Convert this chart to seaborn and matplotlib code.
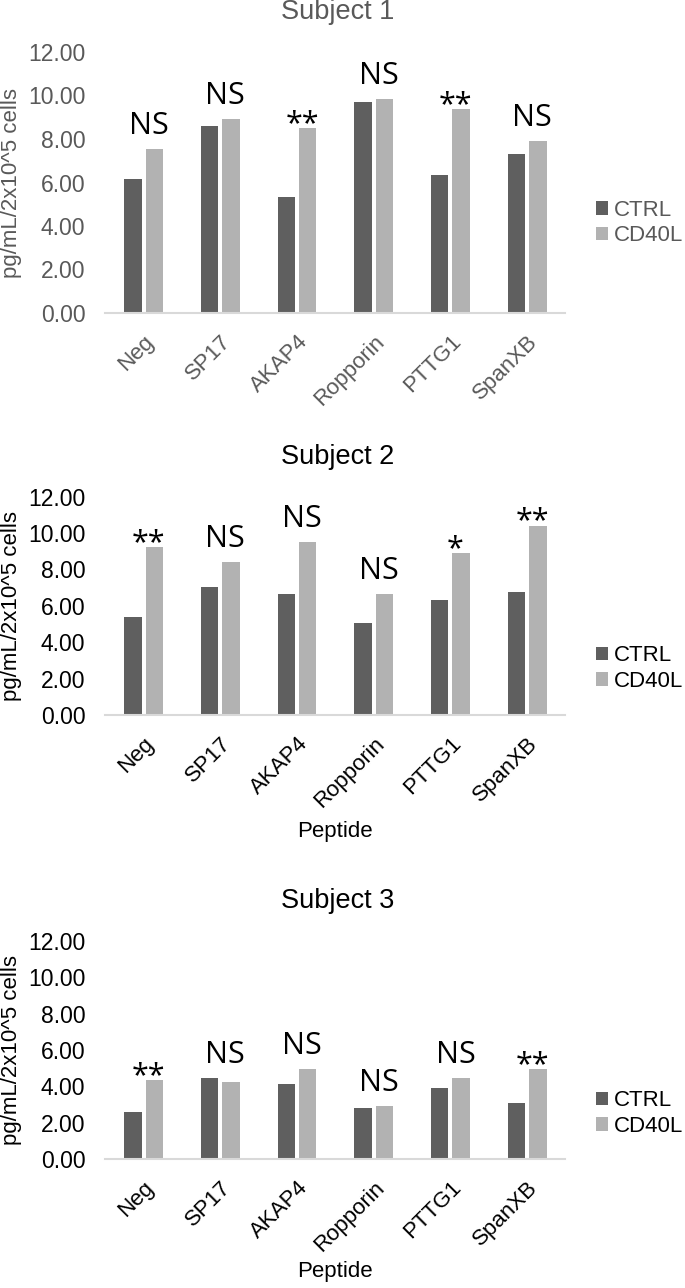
import matplotlib
matplotlib.use("Agg")
import matplotlib.pyplot as plt
import numpy as np
import pandas as pd
import seaborn as sns

# ---------------- data ----------------
categories = ["Neg", "SP17", "AKAP4", "Ropporin", "PTTG1", "SpanXB"]
conditions = ["CTRL", "CD40L"]

s1_ctrl = [6.17, 8.60, 5.35, 9.68, 6.33, 7.32]
s1_cd40l = [7.52, 8.91, 8.50, 9.86, 9.38, 7.90]
s1_sig = ["NS", "NS", "**", "NS", "**", "NS"]

s2_ctrl = [5.37, 7.02, 6.67, 5.03, 6.31, 6.78]
s2_cd40l = [9.25, 8.41, 9.49, 6.67, 8.90, 10.41]
s2_sig = ["**", "NS", "NS", "NS", "*", "**"]

s3_ctrl = [2.60, 4.48, 4.12, 2.83, 3.90, 3.07]
s3_cd40l = [4.35, 4.23, 4.94, 2.94, 4.48, 4.94]
s3_sig = ["**", "NS", "NS", "NS", "NS", "**"]

titles = ["Subject 1", "Subject 2", "Subject 3"]
y_ticks = [0, 2, 4, 6, 8, 10, 12]
y_label = "pg/mL/2x10^5 cells"
x_label = "Peptide"

# ---------------- style ----------------
sns.set_theme(style="white")
plt.rcParams["font.family"] = ["Liberation Sans", "DejaVu Sans"]

W, H = 685, 1288
fig = plt.figure(figsize=(W / 100, H / 100), dpi=100)
PT = 0.72  # points per pixel

palette = ["#5f5f5f", "#b2b2b2"]

# axes in pixel coords: left, right, top(12.00), bottom(0.00)
panel_px = [
    (105.3, 565.5, 52.0, 313.0),
    (105.3, 565.5, 496.7, 715.0),
    (105.3, 565.5, 940.7, 1159.3),
]
legend_y_px = [223, 668.5, 1113.5]
text_colors = ["#595959", "#000000", "#000000"]
show_xlabel = [False, True, True]
xlabel_offset_px = [0, 116.7, 112.4]

series = [
    (s1_ctrl, s1_cd40l, s1_sig),
    (s2_ctrl, s2_cd40l, s2_sig),
    (s3_ctrl, s3_cd40l, s3_sig),
]

for k, (ctrl, cd40l, sig) in enumerate(series):
    l, r, t, b = panel_px[k]
    ax = fig.add_axes([l / W, 1 - b / H, (r - l) / W, (b - t) / H])
    tc = text_colors[k]

    df = pd.DataFrame({
        "Peptide": categories * 2,
        "Condition": [conditions[0]] * len(categories) + [conditions[1]] * len(categories),
        "value": list(ctrl) + list(cd40l),
    })
    sns.barplot(data=df, x="Peptide", y="value", hue="Condition",
                order=categories, hue_order=conditions, palette=palette,
                saturation=1, width=0.56, gap=0.19, errorbar=None,
                linewidth=0, ax=ax)

    ax.set_xlim(-0.5, len(categories) - 0.5)
    ax.set_ylim(0, 12)
    ax.set_yticks(y_ticks)
    ax.set_yticklabels([f"{v:.2f}" for v in y_ticks])
    ax.grid(False)
    for s in ["top", "right", "left"]:
        ax.spines[s].set_visible(False)
    ax.spines["bottom"].set_color("#d9d9d9")
    ax.spines["bottom"].set_linewidth(1.5)

    ax.tick_params(axis="y", length=0, pad=14.4, labelsize=16.5, labelcolor=tc)
    ax.tick_params(axis="x", length=0, pad=13, labelsize=16, labelcolor=tc)
    for lbl in ax.get_xticklabels():
        lbl.set_rotation(45)
        lbl.set_ha("right")
        lbl.set_va("top")
        lbl.set_rotation_mode("anchor")

    ax.set_ylabel(y_label, fontsize=16, color=tc)
    ax.yaxis.set_label_coords((12 - l) / (r - l), 0.5)
    ax.yaxis.label.set_va("center")

    if show_xlabel[k]:
        ax.set_xlabel(x_label, fontsize=16, color=tc)
        ax.xaxis.set_label_coords(0.5, -xlabel_offset_px[k] / (b - t))
        ax.xaxis.label.set_va("center")
    else:
        ax.set_xlabel("")

    # title
    ax.annotate(titles[k], xy=(0.5, 1), xycoords="axes fraction",
                xytext=(2 * PT, 40 * PT), textcoords="offset points",
                ha="center", va="center", fontsize=19.5, color=tc)

    # significance labels
    for i, lab in enumerate(sig):
        top = max(ctrl[i], cd40l[i])
        dy = 15 * PT if lab == "NS" else -4 * PT
        ax.annotate(lab, xy=(i, top), xycoords="data",
                    xytext=(5 * PT, dy), textcoords="offset points",
                    ha="center", va="baseline", fontsize=22,
                    family=["Open Sans", "DejaVu Sans"], color="black")

    handles, labels = ax.get_legend_handles_labels()
    if ax.get_legend() is not None:
        ax.get_legend().remove()
    leg = ax.legend(handles, labels, loc="center left",
                    bbox_to_anchor=(596 / W, 1 - legend_y_px[k] / H),
                    bbox_transform=fig.transFigure, frameon=False,
                    fontsize=16, handlelength=0.55, handleheight=0.55,
                    handletextpad=0.25, labelspacing=0.2,
                    borderaxespad=0, borderpad=0)
    for txt in leg.get_texts():
        txt.set_color(tc)

fig.savefig("out.png", dpi=100)
